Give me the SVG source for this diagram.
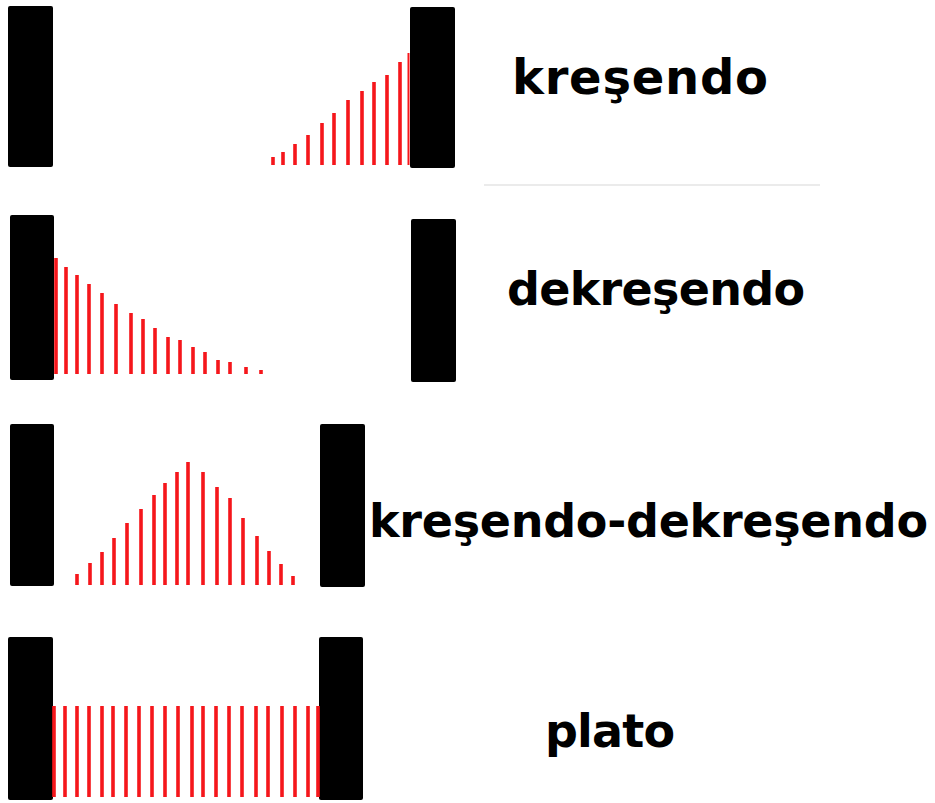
<svg xmlns="http://www.w3.org/2000/svg" width="935" height="803" viewBox="0 0 935 803">
<style>
.blk{fill:#000}
.bar{stroke:#f5161b;stroke-width:3.6;fill:none}
.lbl{font-family:"DejaVu Sans","Liberation Sans",sans-serif;font-weight:bold;font-size:46px;fill:#000}
</style>
<rect width="935" height="803" fill="#fff"/>
<line x1="484" y1="185" x2="820" y2="185" stroke="#ebebeb" stroke-width="2"/>
<g id="kresendo">
<rect class="blk" x="8" y="6" width="45" height="161" rx="2"/>
<rect class="blk" x="410" y="7" width="45" height="161" rx="2"/>
<path class="bar" d="M273 157V165M283 152V165M295 144V165M308 135V165M322 123V165M334 113V165M348 100V165M362 91V165M374 82V165M387 75V165M400 62V165"/>
<path class="bar" style="stroke-width:2" d="M408.5 53V165"/>
<text class="lbl" x="512" y="94" style="font-size:48px" textLength="256">kreşendo</text>
</g>
<g id="dekresendo">
<rect class="blk" x="10" y="215" width="44" height="165" rx="2"/>
<rect class="blk" x="411" y="219" width="45" height="163" rx="2"/>
<path class="bar" d="M56 258V374M66 267V374M77 275V374M89 284V374M102 293V374M116 304V374M131 313V374M143 319V374M155 328V374M168 337V374M180 340V374M193 347V374M205 352V374M218 360V374M230 362V374M246 367V374M261 370V374"/>
<text class="lbl" x="507" y="305" textLength="298">dekreşendo</text>
</g>
<g id="kresendo-dekresendo">
<rect class="blk" x="10" y="424" width="44" height="162" rx="2"/>
<rect class="blk" x="320" y="424" width="45" height="163" rx="2"/>
<path class="bar" d="M77 574V585M90 563V585M102 552V585M114 538V585M127 523V585M141 509V585M154 495V585M165 483V585M177 472V585M188 462V585M203 472V585M217 487V585M230 498V585M243 518V585M257 536V585M269 551V585M281 564V585M293 576V585"/>
<text class="lbl" x="369" y="537" textLength="559">kreşendo-dekreşendo</text>
</g>
<g id="plato">
<rect class="blk" x="8" y="637" width="45" height="163" rx="2"/>
<rect class="blk" x="319" y="637" width="44" height="163" rx="2"/>
<path class="bar" d="M54 706V797M65 706V797M77 706V797M89 706V797M102 706V797M113 706V797M126 706V797M139 706V797M152 706V797M165 706V797M178 706V797M192 706V797M203 706V797M216 706V797M229 706V797M242 706V797M256 706V797M268 706V797M282 706V797M295 706V797M308 706V797M318 706V797"/>
<text class="lbl" x="545" y="747" textLength="130">plato</text>
</g>
</svg>
